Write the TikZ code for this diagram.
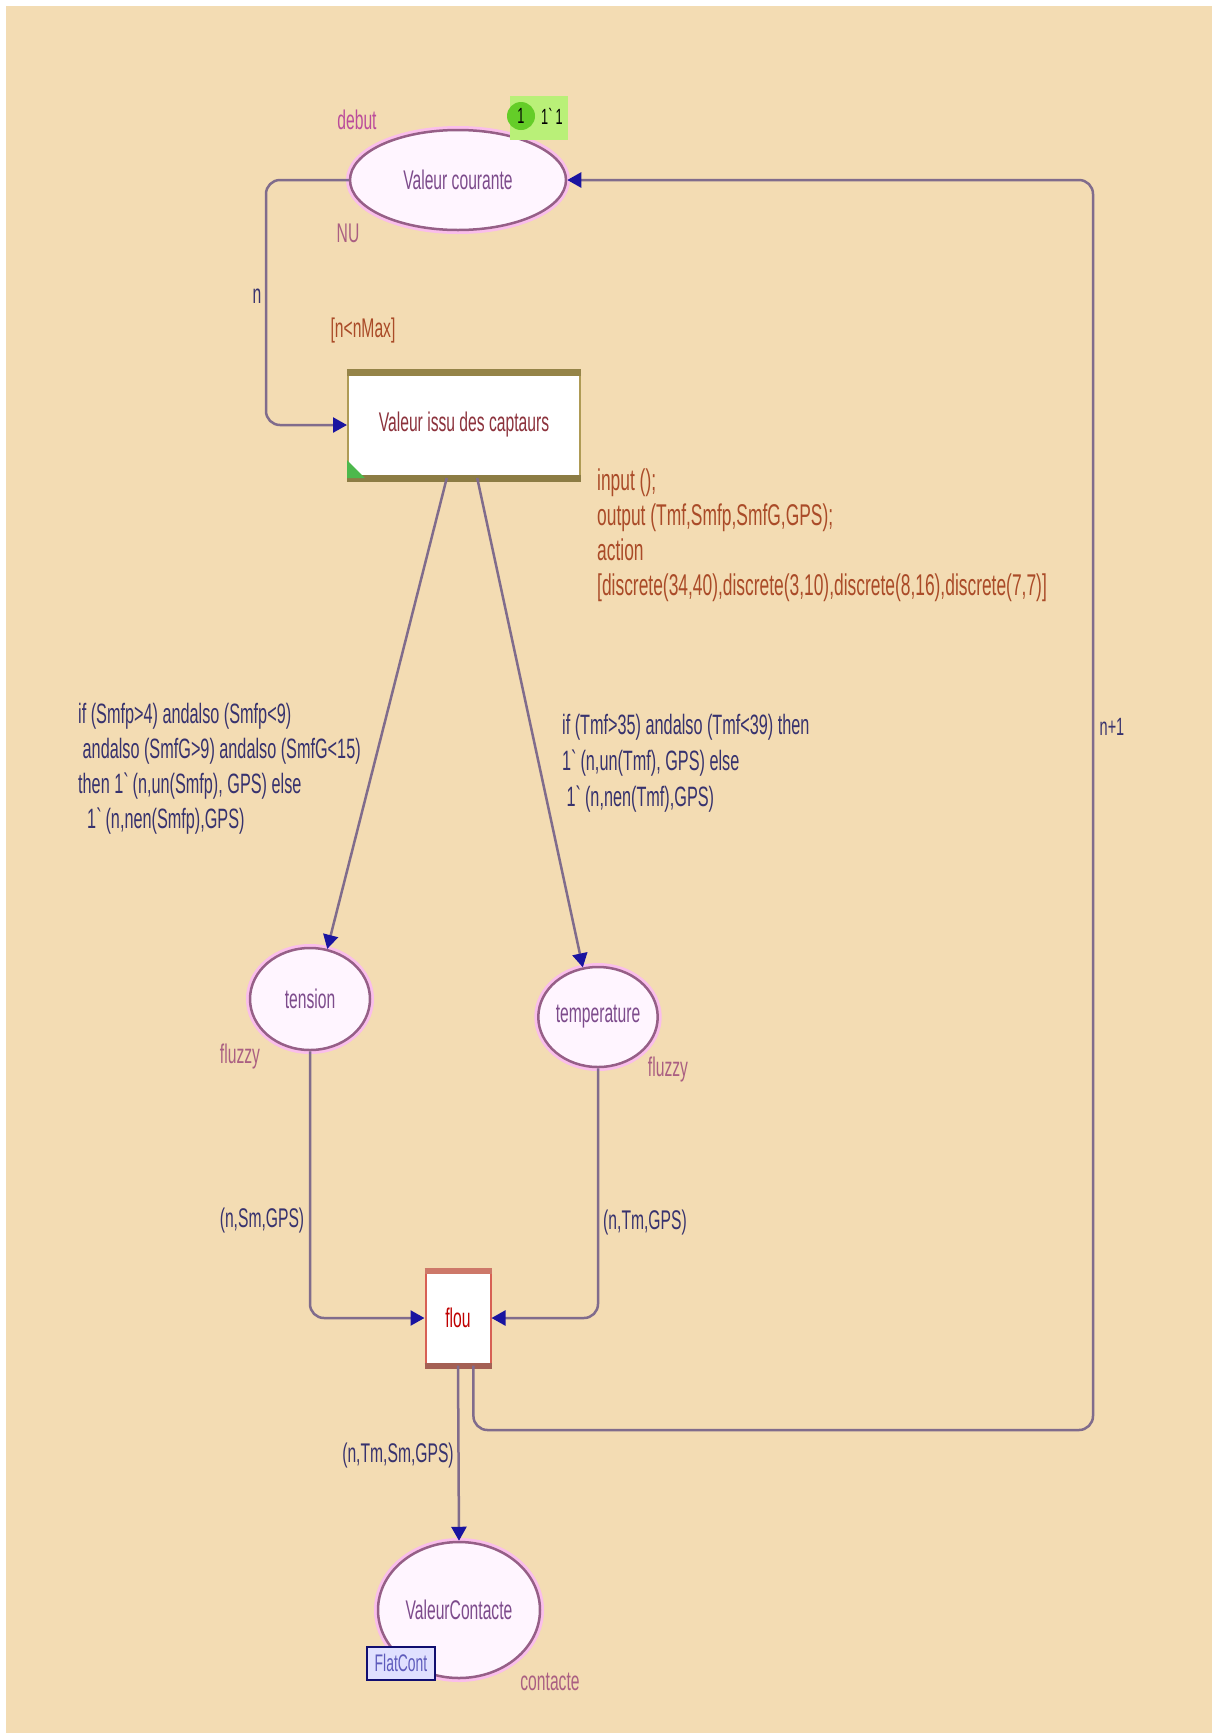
\documentclass[tikz,border=0pt]{standalone}
\usepackage{fontspec}
\setmainfont{Liberation Sans}[FakeStretch=0.58]
\usetikzlibrary{arrows.meta,shapes.geometric}
\definecolor{cpnbg}{RGB}{243,220,179}
\definecolor{placeline}{RGB}{150,95,135}
\definecolor{placeglow}{RGB}{250,190,235}
\definecolor{placefill}{RGB}{255,245,255}
\definecolor{arcline}{RGB}{128,108,140}
\definecolor{arrowblue}{RGB}{25,20,160}
\definecolor{insc}{RGB}{55,50,110}
\definecolor{pname}{RGB}{125,75,140}
\definecolor{ptype}{RGB}{170,95,130}
\definecolor{codered}{RGB}{170,75,40}
\definecolor{tname}{RGB}{140,50,60}
\definecolor{capline}{RGB}{175,155,85}
\definecolor{flouline}{RGB}{205,120,105}
\definecolor{tokgreen}{RGB}{100,205,40}
\definecolor{marklight}{RGB}{185,240,120}
\newcommand{\bq}{\textasciigrave}

\begin{document}
\begin{tikzpicture}[x=1pt,y=-1pt]
\tikzstyle{every node}+=[inner sep=0pt, font=\fontsize{27}{31}\selectfont]
\tikzstyle{place}=[ellipse, draw=placeline, line width=2.5pt, fill=placefill, text=pname, preaction={draw=placeglow, line width=8pt}]
\tikzstyle{trans}=[rectangle, fill=white, line width=2pt]
\tikzstyle{arc}=[draw=arcline, line width=2.5pt, rounded corners=14pt, -{Triangle[length=14pt,width=15pt,color=arrowblue]}]
\tikzstyle{insc}=[text=insc, align=left]
\tikzstyle{ptype}=[text=ptype]
\tikzstyle{code}=[text=codered, align=left]
\useasboundingbox (0,0) rectangle (1212,1733);
\fill [white] (0,0) rectangle (1212,1733);
\fill [cpnbg] (6,6) rectangle (1212,1733);
% places
\node [place, minimum width=216, minimum height=100] (vc) at (458,180) {Valeur courante};
\node [place, minimum width=120, minimum height=102] (tension) at (310,999) {tension};
\node [place, minimum width=116, minimum height=100] (temperature) at (598,1017) {temperature};
\node [place, minimum width=162, minimum height=136] (contact) at (459,1610) {ValeurContacte};
% transitions
\node [trans, draw=capline, text=tname, minimum width=232, minimum height=104] (cap) at (464,425) {Valeur issu des captaurs};
\draw [capline!85!black, line width=7pt] (cap.north west) -- (cap.north east);
\draw [capline!80!black, line width=7pt] (cap.south west) -- (cap.south east);
\fill [green!60!black!70] (cap.south west) -- ++(18,0) -- ++(-18,-18) -- cycle;
\node [trans, draw=flouline!80!red, text=red!75!black, minimum width=65, minimum height=93] (flou) at (458,1318) {flou};
\draw [flouline, line width=6pt] (flou.north west) -- (flou.north east);
\draw [flouline!80!black, line width=6pt] (flou.south west) -- (flou.south east);
% marking
\node [fill=marklight, minimum width=58, minimum height=44] (mark) at (539,118) {};
\node [circle, fill=tokgreen, minimum size=28, font=\fontsize{22}{24}\selectfont] (tok) at (521,116) {1};
\node [font=\fontsize{22}{24}\selectfont] (markval) at (552,116) {1\bq1};
% labels of places and transitions
\node [text=ptype!80!magenta] (debut) at (357,120) {debut};
\node [ptype] (nu) at (348,233) {NU};
\node [ptype] (fz1) at (240,1057) {fluzzy};
\node [ptype] (fz2) at (668,1070) {fluzzy};
\node [ptype] (cont) at (550,1682) {contacte};
\node [draw=arrowblue!70!black, fill=blue!12, line width=2pt, text=arrowblue!70, minimum width=68, minimum height=33, font=\fontsize{24}{26}\selectfont] (fus) at (401,1663) {FlatCont};
\node [code] (guard) at (363,331) {[n<nMax]};
\node [code, anchor=north west, font=\fontsize{30}{35}\selectfont] (actcode) at (597,469) {input ();\\output (Tmf,Smfp,SmfG,GPS);\\action\\{[}discrete(34,40),discrete(3,10),discrete(8,16),discrete(7,7){]}};
% arcs
\coordinate (nbend) at (266,425);
\draw [arc] (vc.west) -| (nbend) -- (cap.west);
\node [insc] (nlab) at (257,296) {n};
\draw [arc] (cap.-108) -- (tension.71);
\draw [arc] (cap.-76) -- (temperature.107);
\node [insc, anchor=north west, font=\fontsize{28}{35}\selectfont] (glab1) at (78,703) {if (Smfp>4) andalso (Smfp<9)\\ \ andalso (SmfG>9) andalso (SmfG<15)\\then 1\bq(n,un(Smfp), GPS) else\\ \ \ 1\bq(n,nen(Smfp),GPS)};
\node [insc, anchor=north west, font=\fontsize{28}{36}\selectfont] (glab2) at (562,714) {if (Tmf>35) andalso (Tmf<39) then\\1\bq(n,un(Tmf), GPS) else\\ \ 1\bq(n,nen(Tmf),GPS)};
\draw [arc] (tension.south) |- (flou.west);
\node [insc] (smlab) at (262,1220) {(n,Sm,GPS)};
\draw [arc] (temperature.south) |- (flou.east);
\node [insc] (tmlab) at (645,1222) {(n,Tm,GPS)};
\draw [arc] (flou.south) -- (contact.north);
\node [insc] (outlab) at (398,1455) {(n,Tm,Sm,GPS)};
\coordinate (retlow) at (1093,1430);
\coordinate (rethigh) at (1093,180);
\draw [arc] (flou.-72) |- (retlow) -- (rethigh) -- (vc.east);
\node [insc, font=\fontsize{25}{28}\selectfont] (inclab) at (1112,727) {n+1};
\end{tikzpicture}
\end{document}
